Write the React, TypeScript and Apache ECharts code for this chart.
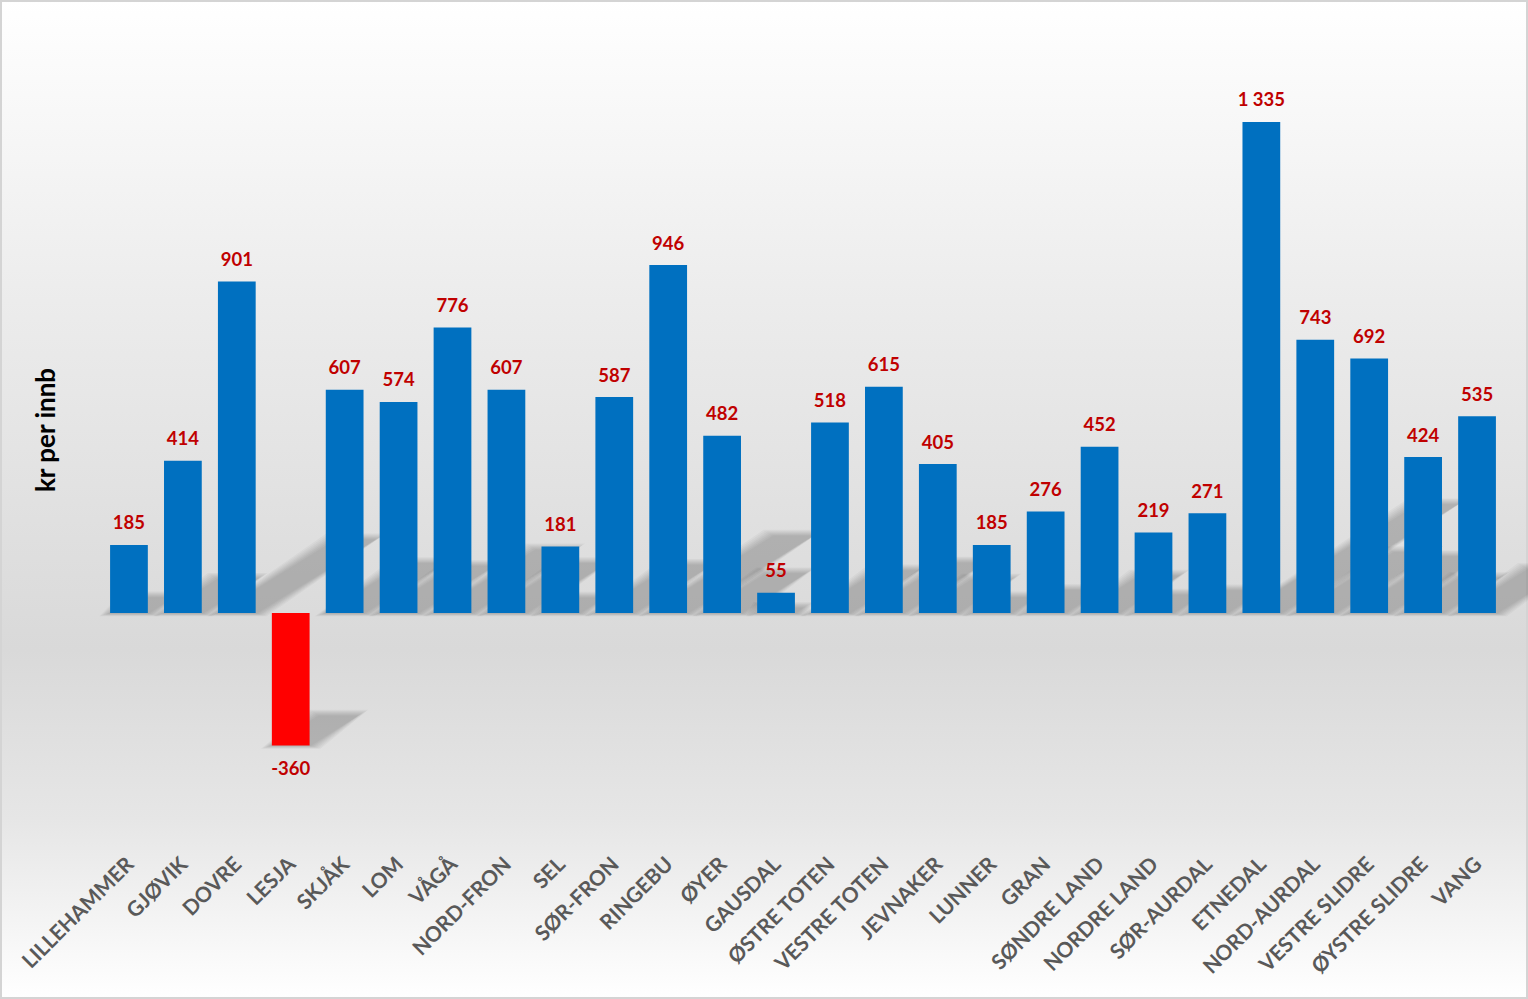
import React, { useEffect, useRef } from "react";
import * as echarts from "echarts";

const categories = [
  "LILLEHAMMER", "GJØVIK", "DOVRE", "LESJA", "SKJÅK", "LOM", "VÅGÅ", "NORD-FRON",
  "SEL", "SØR-FRON", "RINGEBU", "ØYER", "GAUSDAL", "ØSTRE TOTEN", "VESTRE TOTEN",
  "JEVNAKER", "LUNNER", "GRAN", "SØNDRE LAND", "NORDRE LAND", "SØR-AURDAL",
  "ETNEDAL", "NORD-AURDAL", "VESTRE SLIDRE", "ØYSTRE SLIDRE", "VANG",
];
const values = [
  185, 414, 901, -360, 607, 574, 776, 607, 181, 587, 946, 482, 55, 518, 615,
  405, 185, 276, 452, 219, 271, 1335, 743, 692, 424, 535,
];
const yTitle = "kr per innb";

const fmt = (v: number) => {
  const s = Math.abs(v).toString().replace(/\B(?=(\d{3})+(?!\d))/g, " ");
  return (v < 0 ? "-" : "") + s;
};

export default function App() {
  const ref = useRef<HTMLDivElement>(null);
  useEffect(() => {
    if (!ref.current) return;
    const chart = echarts.init(ref.current, null, { renderer: "svg" });
    const option: any = {
      animation: false,
      backgroundColor: {
        type: "linear", x: 0, y: 0, x2: 0, y2: 1,
        colorStops: [
          { offset: 0, color: "#ffffff" },
          { offset: 0.3, color: "#ececec" },
          { offset: 0.65, color: "#d9d9d9" },
          { offset: 0.82, color: "#e6e6e6" },
          { offset: 1, color: "#ffffff" },
        ],
      },
      grid: { left: 102, right: 24, top: 24.5, bottom: 165.3 },
      xAxis: {
        type: "category",
        data: categories,
        axisLine: { show: false },
        axisTick: { show: false },
        axisLabel: {
          rotate: 45,
          interval: 0,
          margin: 26,
          color: "#595959",
          fontWeight: "bold",
          fontSize: 21,
          fontFamily: "Lato",
        },
      },
      yAxis: {
        type: "value",
        min: -600,
        max: 1600,
        show: false,
        splitLine: { show: false },
      },
      graphic: [
        {
          type: "rect",
          shape: { x: 1, y: 1, width: 1526, height: 997 },
          style: { fill: "none", stroke: "#d4d4d4", lineWidth: 2 },
          silent: true,
        },
        {
          type: "text",
          x: 45,
          y: 430,
          rotation: Math.PI / 2,
          style: {
            text: yTitle,
            fill: "#000000",
            font: "bold 26px Lato",
            align: "center",
            verticalAlign: "middle",
          },
        },
      ],
      series: [
        {
          type: "custom",
          silent: true,
          z: 1,
          data: values.map((v, i) => [i, v]),
          encode: { x: 0, y: 1 },
          renderItem: (params: any, api: any) => {
            const idx = api.value(0);
            const val = api.value(1);
            const base = api.coord([idx, 0]);
            const top = api.coord([idx, val]);
            const w = api.size([1, 0])[0] * 0.7;
            const xl = base[0] - w / 2;
            const xr = base[0] + w / 2;
            let y0: number, h: number;
            if (val >= 0) {
              y0 = base[1];
              h = base[1] - top[1];
            } else {
              y0 = top[1];
              h = top[1] - base[1];
            }
            const s = 0.36 * h;
            const r = 0.22 * h;
            const layers: any[] = [];
            const steps = 7;
            for (let k = 0; k < steps; k++) {
              const e = 11 - k * 1.6;
              layers.push({
                type: "polygon",
                shape: {
                  points: [
                    [xl - e, y0 + e * 0.3],
                    [xr + e, y0 + e * 0.3],
                    [xr + s + e, y0 - r - e * 0.6],
                    [xl + s - e, y0 - r - e * 0.6],
                  ],
                },
                style: { fill: "rgba(0,0,0,0.03)" },
              });
            }
            return { type: "group", children: layers };
          },
        },
        {
          type: "bar",
          z: 2,
          barCategoryGap: "30%",
          data: values.map((v) => ({
            value: v,
            itemStyle: { color: v < 0 ? "#ff0000" : "#0070c0" },
            label: { position: v < 0 ? "bottom" : "top" },
          })),
          label: {
            show: true,
            position: "top",
            distance: 13,
            color: "#c00000",
            fontWeight: "bold",
            fontSize: 18.5,
            fontFamily: "Lato",
            formatter: (p: any) => fmt(p.value),
          },
        },
      ],
    };
    chart.setOption(option);
    return () => chart.dispose();
  }, []);
  return (
    <div
      ref={ref}
      style={{ position: "fixed", left: 0, top: 0, width: 1528, height: 999 }}
    />
  );
}
